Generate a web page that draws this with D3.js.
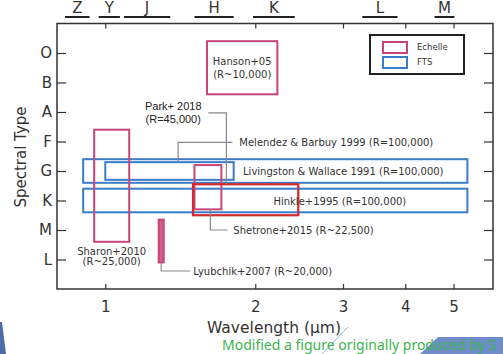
<!DOCTYPE html>
<html>
<head>
<meta charset="utf-8">
<script src="https://cdn.jsdelivr.net/npm/d3@7"></script>
<style>
body { margin: 0; background: #fff; }
svg { display: block; }
</style>
</head>
<body>
<svg id="chart" width="503" height="354"></svg>
<script>
// y axis: spectral types, top to bottom (index 0 = O ... 7 = L)
var spectralTypes = ["O", "B", "A", "F", "G", "K", "M", "L"];
var waveTicks = [1, 2, 3, 4, 5];

// photometric bands along the top, in microns
var bandNames = ["Z", "Y", "J", "H", "K", "L", "M"];
var bandLo = [0.83, 0.97, 1.09, 1.51, 1.98, 3.28, 4.58];
var bandHi = [0.93, 1.07, 1.35, 1.81, 2.40, 3.86, 5.02];

// surveys: wavelength range (microns) and spectral type range (type index)
var surveyNames = ["Livingston & Wallace 1991", "Melendez & Barbuy 1999", "Hinkle+1995",
                   "Hanson+05", "Sharon+2010", "Shetrone+2015", "Lyubchik+2007", "Park+ 2018"];
var surveyKind = ["FTS", "FTS", "FTS", "Echelle", "Echelle", "Echelle", "Echelle", "IGRINS"];
var waveLo = [0.903, 1.0, 0.903, 1.60, 0.95, 1.51, 1.28, 1.50];
var waveHi = [5.33, 1.81, 5.33, 2.215, 1.117, 1.71, 1.31, 2.44];
var typeLo = [3.6, 3.7, 4.6, -0.4, 2.6, 3.8, 5.65, 4.45];
var typeHi = [4.4, 4.3, 5.4, 1.4, 6.4, 5.3, 7.1, 5.5];
var resolution = ["R=100,000", "R=100,000", "R=100,000", "R~10,000", "R~25,000",
                  "R~22,500", "R~20,000", "R=45,000"];

var legendKinds = ["Echelle", "FTS"];

drawChart();

function drawChart() {
    var colors = {Echelle: "#c8457a", FTS: "#3a7cc8", IGRINS: "#d42a2e"};
    var ink = "#333";
    var font = "DejaVu Sans, sans-serif";

    var svg = d3.select("#chart");
    var m = {left: 57, right: 493, top: 23.5, bottom: 289};

    var x = d3.scaleLog().domain([0.8, 6.0]).range([m.left, m.right]);
    var y = d3.scaleLinear().domain([-1, 8]).range([m.top, m.bottom]);

    // axes, ticks pointing inward
    var gBottom = svg.append("g")
        .attr("transform", "translate(0," + m.bottom + ")")
        .call(d3.axisBottom(x).tickValues(waveTicks).tickFormat(d3.format("d"))
              .tickSizeInner(-5).tickSizeOuter(0).tickPadding(12));
    var gTop = svg.append("g")
        .attr("transform", "translate(0," + m.top + ")")
        .call(d3.axisTop(x).tickValues(waveTicks).tickFormat("")
              .tickSizeInner(-5).tickSizeOuter(0));
    var gLeft = svg.append("g")
        .attr("transform", "translate(" + m.left + ",0)")
        .call(d3.axisLeft(y).tickValues(d3.range(spectralTypes.length))
              .tickFormat(function(i) { return spectralTypes[i]; })
              .tickSizeInner(-9).tickSizeOuter(0).tickPadding(5));
    var gRight = svg.append("g")
        .attr("transform", "translate(" + m.right + ",0)")
        .call(d3.axisRight(y).tickValues(d3.range(spectralTypes.length)).tickFormat("")
              .tickSizeInner(-9).tickSizeOuter(0));

    [gBottom, gTop, gLeft, gRight].forEach(function(g) {
        g.select(".domain").remove();
        g.selectAll(".tick line").attr("stroke", ink).attr("stroke-width", 1.2);
        g.selectAll("text").attr("fill", ink).style("font-family", font).style("font-size", "15px");
    });

    // frame
    svg.append("rect")
        .attr("x", m.left).attr("y", m.top)
        .attr("width", m.right - m.left).attr("height", m.bottom - m.top)
        .attr("fill", "none").attr("stroke", ink).attr("stroke-width", 1.5);

    // axis titles
    svg.append("text")
        .attr("x", 274)
        .attr("y", 333)
        .attr("text-anchor", "middle")
        .attr("fill", ink)
        .style("font-family", font).style("font-size", "15.5px")
        .text("Wavelength (\u03bcm)");
    svg.append("text")
        .attr("transform", "translate(26,157) rotate(-90)")
        .attr("text-anchor", "middle")
        .attr("fill", ink)
        .style("font-family", font).style("font-size", "15px")
        .text("Spectral Type");

    // band labels with underlines
    bandNames.forEach(function(b, i) {
        var x0 = x(bandLo[i]), x1 = x(bandHi[i]);
        svg.append("line")
            .attr("x1", x0).attr("x2", x1).attr("y1", 17).attr("y2", 17)
            .attr("stroke", "#222").attr("stroke-width", 2);
        svg.append("text")
            .attr("x", (x0 + x1) / 2).attr("y", 13)
            .attr("text-anchor", "middle")
            .attr("fill", ink)
            .style("font-family", font).style("font-size", "15px")
            .text(b);
    });

    // survey boxes
    surveyNames.forEach(function(name, i) {
        var k = surveyKind[i];
        var filled = name == "Lyubchik+2007";
        svg.append("rect")
            .attr("x", x(waveLo[i]))
            .attr("y", y(typeLo[i]))
            .attr("width", x(waveHi[i]) - x(waveLo[i]))
            .attr("height", y(typeHi[i]) - y(typeLo[i]))
            .attr("fill", filled ? "#d0608c" : "none")
            .attr("stroke", colors[k])
            .attr("stroke-width", k == "IGRINS" ? 2.2 : 2);
    });

    // leader lines, in data units
    var leaders = [
        [[1.61, 2.03], [1.75, 2.03], [1.75, 4.45]],
        [[1.40, 3.7], [1.40, 3.03], [1.80, 3.03]],
        [[1.625, 5.3], [1.625, 6.0], [1.758, 6.0]],
        [[1.295, 7.1], [1.295, 7.39], [1.48, 7.39]]
    ];
    var line = d3.line().x(function(p) { return x(p[0]); }).y(function(p) { return y(p[1]); });
    leaders.forEach(function(pts) {
        svg.append("path").attr("d", line(pts))
            .attr("fill", "none").attr("stroke", "#888").attr("stroke-width", 1.2);
    });

    // annotations: [text, wavelength, type, anchor]
    function res(i) { return "(" + resolution[i] + ")"; }
    var notes = [
        [surveyNames[3], 1.883, 0.3, "middle"],
        [res(3), 1.883, 0.72, "middle"],
        [surveyNames[4], 1.03, 6.72, "middle"],
        [res(4), 1.03, 7.08, "middle"],
        [surveyNames[0] + " " + res(0), 1.89, 4.03, "start"],
        [surveyNames[2] + " " + res(2), 2.175, 5.02, "start"],
        [surveyNames[1] + " " + res(1), 1.858, 3.05, "start"],
        [surveyNames[5] + " " + res(5), 1.807, 6.02, "start"],
        [surveyNames[6] + " " + res(6), 1.502, 7.41, "start"]
    ];
    notes.forEach(function(n) {
        svg.append("text")
            .attr("x", x(n[1])).attr("y", y(n[2]))
            .attr("dy", "0.35em")
            .attr("text-anchor", n[3])
            .attr("fill", ink)
            .style("font-family", font).style("font-size", "10px")
            .text(n[0]);
    });
    // Park+ 2018 was added in another font
    [[surveyNames[7], 1.80], [res(7), 2.24]].forEach(function(n) {
        svg.append("text")
            .attr("x", x(1.369)).attr("y", y(n[1]))
            .attr("dy", "0.35em")
            .attr("text-anchor", "middle")
            .attr("fill", "#222")
            .style("font-family", "Liberation Sans, Arial, sans-serif").style("font-size", "11px")
            .text(n[0]);
    });

    // legend
    var lg = svg.append("g").attr("transform", "translate(370,35)");
    lg.append("rect").attr("width", 94).attr("height", 39)
        .attr("fill", "#fff").attr("stroke", "#222").attr("stroke-width", 2);
    legendKinds.forEach(function(k, i) {
        lg.append("rect")
            .attr("x", 13).attr("y", 7 + i * 15)
            .attr("width", 24).attr("height", 11)
            .attr("fill", "none").attr("stroke", colors[k]).attr("stroke-width", 2);
        lg.append("text")
            .attr("x", 47).attr("y", 12.5 + i * 15)
            .attr("dy", "0.35em")
            .attr("fill", ink)
            .style("font-family", font).style("font-size", "8.5px")
            .text(k);
    });

    // slide decorations
    svg.append("path").attr("d", "M0,322 L2,322 L6,354 L0,354 Z").attr("fill", "#4d6ca8");
    svg.append("path").attr("d", "M420,354 L438,337 L503,337 L503,354 Z").attr("fill", "#6f8ec9");
    svg.append("line").attr("x1", 322).attr("y1", 354).attr("x2", 348).attr("y2", 327)
        .attr("stroke", "#8fb0e0").attr("stroke-width", 1);

    svg.append("text")
        .attr("x", 222).attr("y", 350)
        .attr("fill", "#3cb44f")
        .style("font-family", "Noto Sans, sans-serif").style("font-size", "14px")
        .text("Modified a figure originally produced by S");
}
</script>
</body>
</html>
